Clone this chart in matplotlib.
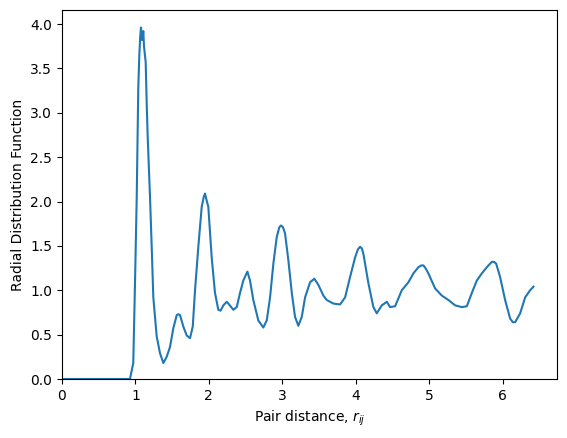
import matplotlib
matplotlib.use("Agg")
import matplotlib.pyplot as plt

# pair distance r_ij and g(r)
r = [0.0, 0.5, 0.926, 0.971, 0.995, 1.018, 1.031, 1.039, 1.053, 1.065, 1.076, 1.09,
     1.108, 1.117, 1.14, 1.154, 1.167, 1.199, 1.222, 1.244, 1.29, 1.335, 1.381,
     1.426, 1.471, 1.516, 1.563, 1.585, 1.608, 1.653, 1.699, 1.744, 1.781, 1.812,
     1.857, 1.903, 1.93, 1.948, 1.965, 1.993, 2.039, 2.084, 2.129, 2.16, 2.198,
     2.244, 2.266, 2.334, 2.38, 2.425, 2.47, 2.525, 2.561, 2.606, 2.674, 2.742,
     2.789, 2.834, 2.879, 2.925, 2.96, 2.984, 3.01, 3.038, 3.083, 3.13, 3.174,
     3.219, 3.266, 3.311, 3.379, 3.437, 3.492, 3.56, 3.606, 3.696, 3.787, 3.856,
     3.924, 3.992, 4.03, 4.06, 4.085, 4.105, 4.173, 4.241, 4.287, 4.356, 4.424,
     4.469, 4.537, 4.628, 4.718, 4.786, 4.854, 4.895, 4.922, 4.95, 4.99, 5.082,
     5.173, 5.263, 5.354, 5.446, 5.514, 5.582, 5.65, 5.718, 5.786, 5.854, 5.885,
     5.913, 5.967, 6.035, 6.104, 6.14, 6.172, 6.24, 6.308, 6.376, 6.421]
g = [0.0, 0.0, 0.0, 0.18, 1.1, 2.05, 2.8, 3.27, 3.64, 3.85, 3.96, 3.82,
     3.92, 3.75, 3.57, 3.1, 2.74, 2.05, 1.49, 0.92, 0.48, 0.29, 0.18,
     0.25, 0.36, 0.57, 0.72, 0.73, 0.72, 0.59, 0.49, 0.46, 0.59, 1.0,
     1.49, 1.94, 2.05, 2.09, 2.03, 1.94, 1.37, 0.97, 0.78, 0.77, 0.83,
     0.87, 0.85, 0.78, 0.81, 0.97, 1.11, 1.21, 1.11, 0.89, 0.66, 0.58,
     0.66, 0.92, 1.3, 1.6, 1.71, 1.73, 1.71, 1.64, 1.34, 0.97, 0.7,
     0.6, 0.7, 0.92, 1.09, 1.13, 1.06, 0.94, 0.89, 0.85, 0.84, 0.92,
     1.15, 1.37, 1.46, 1.49, 1.47, 1.41, 1.08, 0.81, 0.74, 0.83, 0.87,
     0.81, 0.82, 1.0, 1.09, 1.19, 1.26, 1.28, 1.28, 1.25, 1.19, 1.02,
     0.94, 0.89, 0.83, 0.81, 0.82, 0.97, 1.11, 1.19, 1.26, 1.32, 1.32,
     1.3, 1.15, 0.89, 0.68, 0.64, 0.64, 0.74, 0.92, 1.0, 1.04]


def main():
    fig = plt.figure(figsize=(5.67, 4.38), dpi=100)
    ax = fig.add_axes([0.1093, 0.1347, 0.8731, 0.8425])
    ax.plot(r, g)
    ax.set_xlim(left=0)
    ax.set_ylim(bottom=0)
    ax.set_xlabel("Pair distance, $r_{ij}$")
    ax.set_ylabel("Radial Distribution Function")
    fig.savefig("out.png", dpi=100)


if __name__ == "__main__":
    main()
